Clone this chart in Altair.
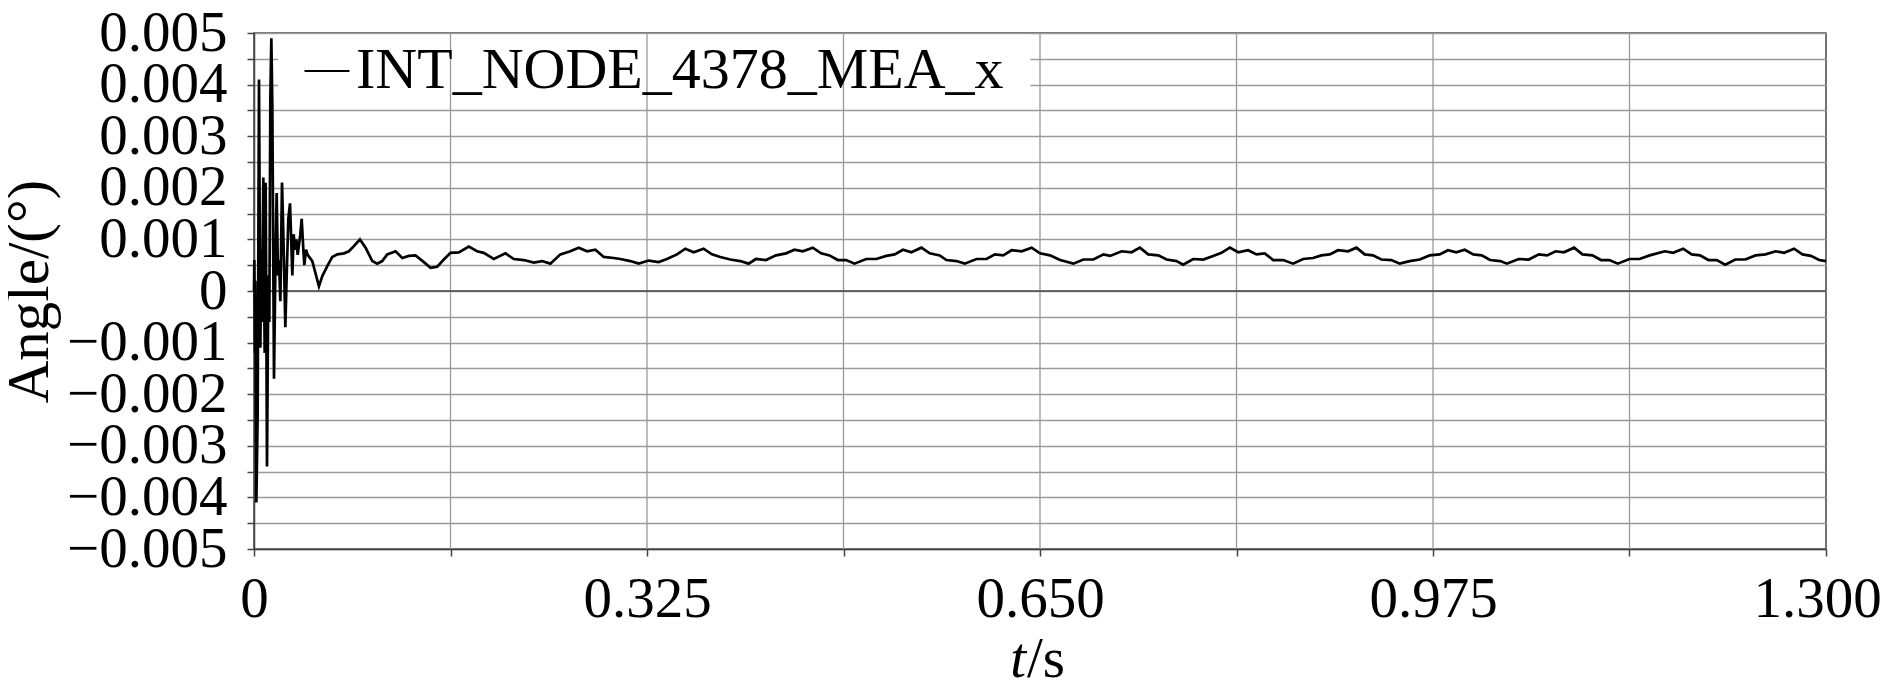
import altair as alt
import pandas as pd

# ---- data ----
t_s = [
    0.0, 0.00028, 0.00083, 0.0011, 0.00193, 0.00303, 0.00414, 0.00524, 0.00607, 0.00662,
    0.00772, 0.00882, 0.00965, 0.01075, 0.01186, 0.01268, 0.01351, 0.01434, 0.01516, 0.01654,
    0.01765, 0.01875, 0.01985, 0.02068, 0.02178, 0.02316, 0.02426, 0.02592, 0.02702, 0.0284,
    0.02978, 0.03088, 0.03171, 0.03281, 0.03391, 0.03501, 0.03612, 0.03722, 0.03832, 0.03943,
    0.04081, 0.04163, 0.04301, 0.04439,
    0.0482, 0.0537, 0.0565, 0.0606, 0.0647, 0.0689, 0.0744, 0.0785, 0.0826, 0.0876,
    0.0923, 0.0978, 0.1019, 0.1060, 0.1102, 0.1171, 0.1226, 0.1281, 0.1336, 0.1405,
    0.1460, 0.1515, 0.1570, 0.1625, 0.1694, 0.1776, 0.1845, 0.1900, 0.1983, 0.2079,
    0.2148, 0.2231, 0.2314, 0.2382, 0.2451, 0.2534, 0.2616, 0.2685, 0.2754, 0.2823,
    0.2892, 0.2975, 0.3030, 0.3112, 0.3181, 0.3264, 0.3346, 0.3415, 0.3498, 0.3567,
    0.3636, 0.3718, 0.3787, 0.3856, 0.3939, 0.4021, 0.4090,
    0.4151, 0.4234, 0.4317, 0.4400, 0.4469, 0.4538, 0.4621, 0.4690, 0.4759, 0.4828,
    0.4897, 0.4966, 0.5063, 0.5146, 0.5229, 0.5298, 0.5367, 0.5436, 0.5519, 0.5588,
    0.5671, 0.5726, 0.5809, 0.5878, 0.5975, 0.6058, 0.6127, 0.6196, 0.6265, 0.6348,
    0.6431, 0.6500, 0.6583, 0.6666, 0.6776, 0.6859, 0.6942, 0.7025, 0.7080,
    0.7175, 0.7257, 0.7326, 0.7395, 0.7478, 0.7547, 0.7629, 0.7684, 0.7767, 0.7850,
    0.7932, 0.8001, 0.8070, 0.8139, 0.8221, 0.8290, 0.8359, 0.8428, 0.8511, 0.8593,
    0.8676, 0.8758, 0.8827, 0.8896, 0.8965, 0.9048, 0.9117, 0.9185, 0.9254, 0.9323,
    0.9406, 0.9475, 0.9557, 0.9640, 0.9722, 0.9805, 0.9874, 0.9943, 1.0012,
    1.0083, 1.0153, 1.0222, 1.0306, 1.0361, 1.0458, 1.0542, 1.0625, 1.0694, 1.0764,
    1.0833, 1.0917, 1.0986, 1.1069, 1.1139, 1.1208, 1.1278, 1.1375, 1.1458, 1.1542,
    1.1667, 1.1736, 1.1819, 1.1889, 1.1958, 1.2028, 1.2097, 1.2167, 1.2250, 1.2333,
    1.2417, 1.2500, 1.2583, 1.2653, 1.2736, 1.2806, 1.2875, 1.2944, 1.3000,
]
angle_deg = [
    0.0, 0.0006, -0.0012, 0.0002, -0.0041, -0.0024, 0.0041, -0.0011, 0.0008, -0.0006,
    0.0022, -0.0012, 0.0021, -0.0034, 0.0003, -0.0006, 0.0037, 0.0049, 0.0036, -0.0017,
    0.0004, 0.0019, 0.0003, 0.0006, -0.0002, 0.0021, 0.0011, -0.0007, 0.0003, 0.0014,
    0.0017, 0.0009, 0.0003, 0.0011, 0.0008, 0.0010, 0.0007, 0.0009, 0.0011, 0.0014,
    0.0008, 0.0005, 0.0008, 0.0007,
    0.00058, 0.00009, 0.00029, 0.00048, 0.00066, 0.00071, 0.00073, 0.00077, 0.00087, 0.0010,
    0.00084, 0.00058, 0.00053, 0.00058, 0.00071, 0.00077, 0.00064, 0.00068, 0.00069, 0.00056,
    0.00045, 0.00047, 0.00061, 0.00074, 0.00075, 0.00086, 0.00077, 0.00074, 0.00062, 0.00073,
    0.00062, 0.00060, 0.00055, 0.00058, 0.00053, 0.00071, 0.00077, 0.00084, 0.00077, 0.00080,
    0.00066, 0.00064, 0.00062, 0.00058, 0.00053, 0.00059, 0.00056, 0.00062, 0.00071, 0.00082,
    0.00075, 0.00082, 0.00071, 0.00066, 0.00061, 0.00058, 0.00053,
    0.00062, 0.00060, 0.00069, 0.00073, 0.00080, 0.00077, 0.00084, 0.00073, 0.00069, 0.00060,
    0.00060, 0.00053, 0.00062, 0.00062, 0.00068, 0.00071, 0.00080, 0.00075, 0.00084, 0.00073,
    0.00069, 0.00060, 0.00058, 0.00053, 0.00062, 0.00062, 0.00071, 0.00069, 0.00079, 0.00077,
    0.00084, 0.00073, 0.00069, 0.00060, 0.00053, 0.00061, 0.00061, 0.00071, 0.00068,
    0.00077, 0.00075, 0.00084, 0.00071, 0.00069, 0.00061, 0.00058, 0.00051, 0.00062, 0.00061,
    0.00068, 0.00074, 0.00084, 0.00075, 0.00079, 0.00071, 0.00073, 0.00060, 0.00060, 0.00053,
    0.00062, 0.00064, 0.00069, 0.00071, 0.00079, 0.00077, 0.00084, 0.00071, 0.00069, 0.00061,
    0.00060, 0.00053, 0.00058, 0.00061, 0.00069, 0.00071, 0.00079, 0.00075, 0.00080,
    0.00071, 0.00069, 0.00060, 0.00058, 0.00053, 0.00062, 0.00061, 0.00071, 0.00069, 0.00077,
    0.00075, 0.00084, 0.00071, 0.00069, 0.00060, 0.00060, 0.00053, 0.00062, 0.00062, 0.00069,
    0.00077, 0.00074, 0.00082, 0.00071, 0.00069, 0.00060, 0.00060, 0.00051, 0.00061, 0.00061,
    0.00069, 0.00071, 0.00077, 0.00074, 0.00082, 0.00071, 0.00068, 0.00060, 0.00058,
]
series_name = "INT_NODE_4378_MEA_x"

y_tick_values = [round(-0.005 + 0.0005 * k, 4) for k in range(21)]
x_tick_values = [round(0.1625 * k, 4) for k in range(9)]
x_grid_values = x_tick_values[1:-1]
legend_box_t = [0.0199, 0.642]
legend_box_angle = [0.0038, 0.00497]
x_title_parts = ["t", "/s"]

# ---- styling ----
FONT = "Liberation Serif"
W, H = 1572, 516
GRID = "#9a9a9a"
DARK = "#444444"

xs = alt.Scale(domain=[0, 1.3], nice=False, zero=False)
ys = alt.Scale(domain=[-0.005, 0.005], nice=False, zero=False)

line_df = pd.DataFrame({"t": t_s, "angle": angle_deg, "series": [series_name] * len(t_s)})

x_axis = alt.Axis(
    values=x_tick_values, grid=False, title=None,
    labelExpr="abs(datum.value/0.325 - round(datum.value/0.325)) < 0.001 ? (datum.value < 0.0001 ? '0' : format(datum.value, '.3f')) : ''",
    labelFont=FONT, labelFontSize=57, labelColor="black", labelPadding=15,
    labelFlush=False, labelOverlap=False,
    labelOffset={"condition": {"test": "datum.value > 1.29", "value": -9}, "value": 0},
    tickSize=7, tickColor=DARK, tickWidth=1.5, domainColor=DARK, domainWidth=1.5,
)
y_axis = alt.Axis(
    values=y_tick_values, grid=True, gridColor=GRID, gridWidth=1.3,
    labelExpr="abs(datum.value*1000 - round(datum.value*1000)) < 0.01 ? (abs(datum.value) < 0.00001 ? '0' : format(datum.value, '.3f')) : ''",
    labelFont=FONT, labelFontSize=57, labelColor="black", labelPadding=20,
    labelFlush=False, labelOverlap=False, labelBaseline="middle",
    tickSize=7, tickColor=DARK, tickWidth=1.5, domainColor=DARK, domainWidth=1.5,
    title="Angle/(°)", titleFont=FONT, titleFontSize=59, titleFontWeight="normal",
    titleColor="black", titleAngle=270, titleX=-207, titleY=258,
    titleAlign="center", titleBaseline="alphabetic",
)

box = alt.Chart(pd.DataFrame({
    "t0": [legend_box_t[0]], "t1": [legend_box_t[1]],
    "a0": [legend_box_angle[0]], "a1": [legend_box_angle[1]],
})).mark_rect(color="white").encode(
    x=alt.X("t0:Q", scale=xs, axis=x_axis), x2="t1:Q",
    y=alt.Y("a0:Q", scale=ys, axis=y_axis), y2="a1:Q",
)

vgrid = alt.Chart(pd.DataFrame({"gx": x_grid_values})).mark_rule(
    color=GRID, strokeWidth=1.3
).encode(x=alt.X("gx:Q", scale=xs, axis=x_axis))

zero_line = alt.Chart(pd.DataFrame({"z": [0.0]})).mark_rule(
    color=DARK, strokeWidth=1.6
).encode(y=alt.Y("z:Q", scale=ys, axis=y_axis))

line = alt.Chart(line_df).mark_line(strokeWidth=2.7, strokeJoin="miter").encode(
    x=alt.X("t:Q", scale=xs, axis=x_axis),
    y=alt.Y("angle:Q", scale=ys, axis=y_axis),
    color=alt.Color(
        "series:N", scale=alt.Scale(range=["black"]),
        legend=alt.Legend(
            title=None, orient="none", legendX=44, legendY=9, padding=0,
            symbolType="stroke", symbolSize=2025, symbolStrokeWidth=2.2,
            labelFont=FONT, labelFontSize=58, labelColor="black",
            labelOffset=0, labelLimit=0,
        ),
    ),
)

t_part = alt.Chart(pd.DataFrame({"lbl": [x_title_parts[0]]})).mark_text(
    font=FONT, fontSize=57, fontStyle="italic", align="right",
    baseline="alphabetic", color="black",
).encode(text="lbl:N", x=alt.value(772), y=alt.value(644))

s_part = alt.Chart(pd.DataFrame({"lbl": [x_title_parts[1]]})).mark_text(
    font=FONT, fontSize=57, align="left", baseline="alphabetic", color="black",
).encode(text="lbl:N", x=alt.value(773), y=alt.value(644))

chart = alt.layer(box, vgrid, zero_line, line, t_part, s_part).properties(
    width=W, height=H,
    autosize=alt.AutoSizeParams(type="none"),
    padding={"left": 246, "top": 25, "right": 56, "bottom": 133},
).configure_view(stroke=DARK, strokeWidth=1.5)

chart.save("out.html", embed_options={"renderer": "svg", "actions": False})
